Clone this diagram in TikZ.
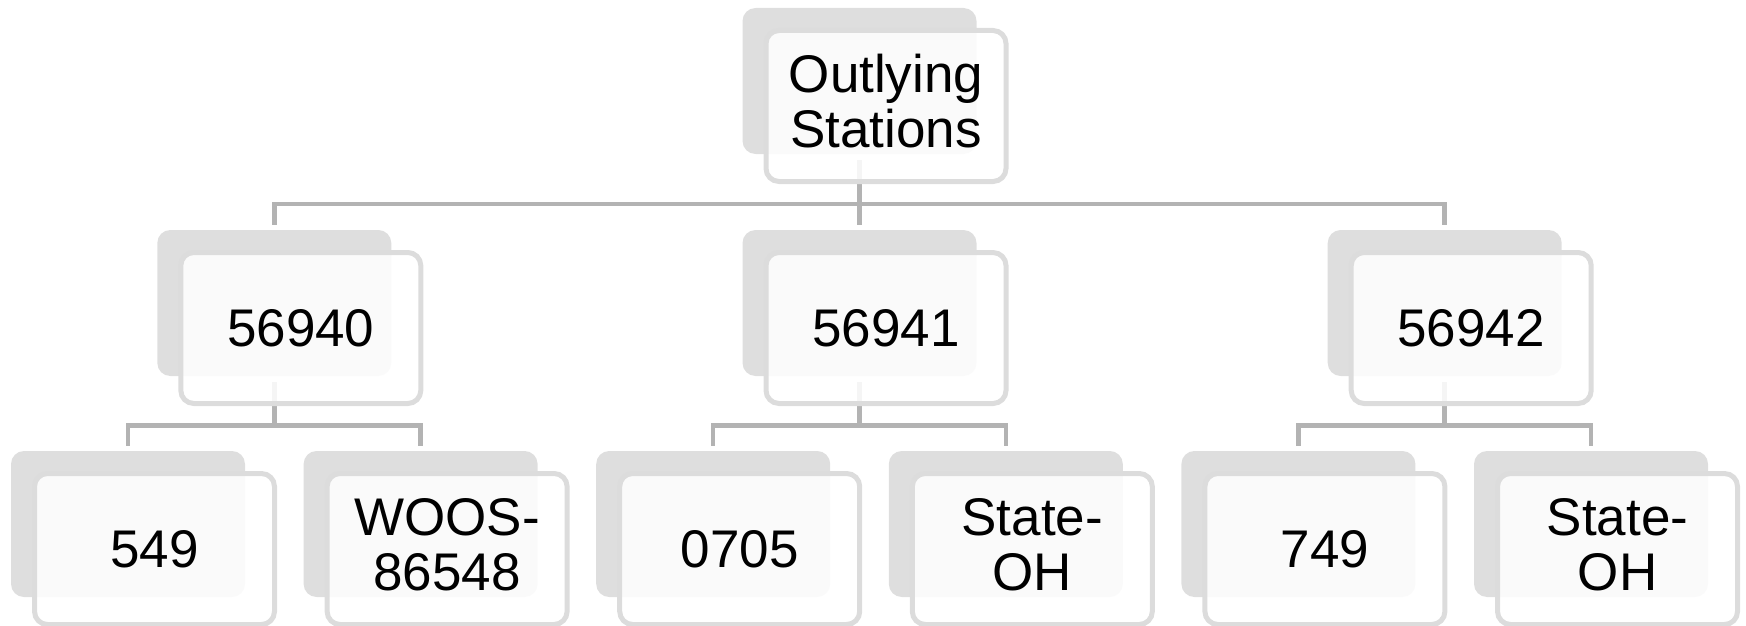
\documentclass[tikz,border=0pt]{standalone}
\usepackage{fontspec}
\setmainfont{Liberation Sans}
\definecolor{backgray}{HTML}{DEDEDE}
\definecolor{bordergray}{HTML}{DCDCDC}
\definecolor{linegray}{HTML}{B3B3B3}
\pgfdeclarelayer{bg}
\pgfsetlayers{bg,main}
\begin{document}
\begin{tikzpicture}[x=1pt,y=-1pt,
  backbox/.style={rectangle, rounded corners=13pt, fill=backgray, minimum width=234pt, minimum height=146pt, inner sep=0pt},
  frontbox/.style={rectangle, rounded corners=13pt, draw=bordergray, line width=5pt, fill=white, fill opacity=0.88, draw opacity=1, minimum width=240pt, minimum height=151pt, inner sep=0pt},
  lbl/.style={font=\fontsize{53}{55}\selectfont, align=center, inner sep=0pt, text=black},
  conn/.style={draw=linegray, line width=4.5pt, line join=miter}]
\useasboundingbox (0,0) rectangle (1746,626);

% top
\node[backbox] (top-b) at (859.5,81) {};
\node[frontbox] (top) at (886,106) {};
% level 2
\node[backbox] (a-b) at (274.3,303) {};
\node[frontbox] (a) at (300.8,328) {};
\node[backbox] (b-b) at (859.5,303) {};
\node[frontbox] (b) at (886,328) {};
\node[backbox] (c-b) at (1444.7,303) {};
\node[frontbox] (c) at (1471.2,328) {};
% leaves
\node[backbox] (l1-b) at (128,524) {};
\node[frontbox] (l1) at (154.5,549) {};
\node[backbox] (l2-b) at (420.6,524) {};
\node[frontbox] (l2) at (447.1,549) {};
\node[backbox] (l3-b) at (713.2,524) {};
\node[frontbox] (l3) at (739.7,549) {};
\node[backbox] (l4-b) at (1005.8,524) {};
\node[frontbox] (l4) at (1032.3,549) {};
\node[backbox] (l5-b) at (1298.4,524) {};
\node[frontbox] (l5) at (1324.9,549) {};
\node[backbox] (l6-b) at (1591,524) {};
\node[frontbox] (l6) at (1617.5,549) {};

% texts
\node[lbl] (t-top) at ([yshift=4.5pt]top.center) {Outlying\\Stations};
\node[lbl] (t-a) at (a.center) {56940};
\node[lbl] (t-b) at (b.center) {56941};
\node[lbl] (t-c) at (c.center) {56942};
\node[lbl] (t-l1) at (l1.center) {549};
\node[lbl] (t-l2) at ([yshift=4.5pt]l2.center) {WOOS-\\86548};
\node[lbl] (t-l3) at (l3.center) {0705};
\node[lbl] (t-l4) at ([yshift=4.5pt]l4.center) {State-\\OH};
\node[lbl] (t-l5) at (l5.center) {749};
\node[lbl] (t-l6) at ([yshift=4.5pt]l6.center) {State-\\OH};

% connectors
\coordinate (bar1) at (0,204);
\coordinate (bar2) at (0,425.5);
\begin{pgfonlayer}{bg}
\draw[conn] ([yshift=-6pt]top-b.south) -- (top-b.south |- bar1);
\draw[conn] ([yshift=5pt]a-b.north) -- (a-b.north |- bar1) -- (c-b.north |- bar1) -- ([yshift=5pt]c-b.north);
\draw[conn] (b-b.north |- bar1) -- ([yshift=5pt]b-b.north);

\draw[conn] ([yshift=-6pt]a-b.south) -- (a-b.south |- bar2);
\draw[conn] ([yshift=5pt]l1-b.north) -- (l1-b.north |- bar2) -- (l2-b.north |- bar2) -- ([yshift=5pt]l2-b.north);
\draw[conn] ([yshift=-6pt]b-b.south) -- (b-b.south |- bar2);
\draw[conn] ([yshift=5pt]l3-b.north) -- (l3-b.north |- bar2) -- (l4-b.north |- bar2) -- ([yshift=5pt]l4-b.north);
\draw[conn] ([yshift=-6pt]c-b.south) -- (c-b.south |- bar2);
\draw[conn] ([yshift=5pt]l5-b.north) -- (l5-b.north |- bar2) -- (l6-b.north |- bar2) -- ([yshift=5pt]l6-b.north);
\end{pgfonlayer}
\end{tikzpicture}
\end{document}
